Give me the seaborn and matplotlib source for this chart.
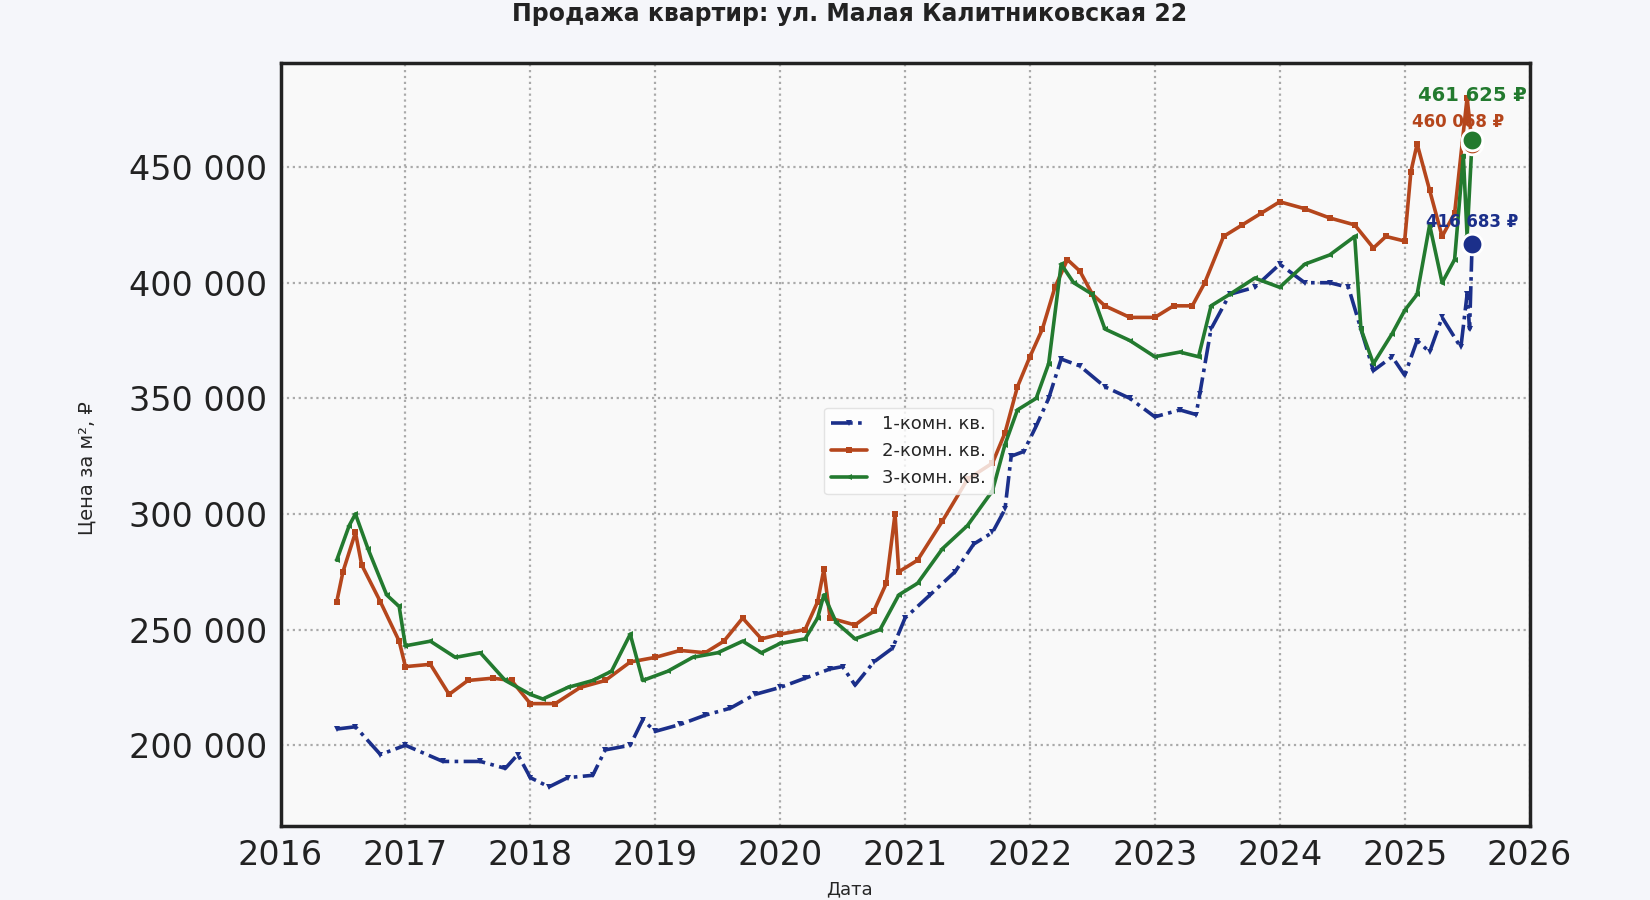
import matplotlib
matplotlib.use("Agg")
import matplotlib.pyplot as plt
import seaborn as sns
import pandas as pd

t1 = [2016.45,2016.6,2016.8,2017.0,2017.3,2017.6,2017.8,2017.9,2018.0,2018.15,2018.3,2018.5,2018.6,2018.8,2018.9,2019.0,2019.2,2019.4,2019.6,2019.8,2020.0,2020.2,2020.4,2020.5,2020.6,2020.75,2020.9,2021.0,2021.2,2021.4,2021.55,2021.7,2021.8,2021.85,2021.95,2022.05,2022.15,2022.25,2022.4,2022.6,2022.8,2023.0,2023.2,2023.33,2023.36,2023.45,2023.6,2023.8,2024.0,2024.2,2024.4,2024.55,2024.65,2024.75,2024.9,2025.0,2025.1,2025.2,2025.3,2025.45,2025.5,2025.52,2025.54]
v1 = [207000,208000,196000,200000,193000,193000,190000,196000,186000,182000,186000,187000,198000,200000,211000,206000,209000,213000,216000,222000,225000,229000,233000,234000,226000,236000,242000,255000,265000,275000,287000,292000,302000,325000,327000,338000,350000,367000,364000,355000,350000,342000,345000,343000,352000,380000,395000,398000,408000,400000,400000,398000,380000,362000,368000,360000,375000,370000,385000,372000,395000,380000,416683]

t2 = [2016.45,2016.5,2016.6,2016.65,2016.8,2016.95,2017.0,2017.2,2017.35,2017.5,2017.7,2017.85,2018.0,2018.2,2018.4,2018.6,2018.8,2019.0,2019.2,2019.4,2019.55,2019.7,2019.85,2020.0,2020.2,2020.3,2020.35,2020.4,2020.6,2020.75,2020.85,2020.92,2020.95,2021.1,2021.3,2021.5,2021.7,2021.8,2021.9,2022.0,2022.1,2022.2,2022.3,2022.4,2022.5,2022.6,2022.8,2023.0,2023.15,2023.3,2023.4,2023.55,2023.7,2023.85,2024.0,2024.2,2024.4,2024.6,2024.75,2024.85,2025.0,2025.05,2025.1,2025.2,2025.3,2025.4,2025.5,2025.54]
v2 = [262000,275000,292000,278000,262000,245000,234000,235000,222000,228000,229000,228000,218000,218000,225000,228000,236000,238000,241000,240000,245000,255000,246000,248000,250000,262000,276000,255000,252000,258000,270000,300000,275000,280000,297000,315000,322000,335000,355000,368000,380000,398000,410000,405000,395000,390000,385000,385000,390000,390000,400000,420000,425000,430000,435000,432000,428000,425000,415000,420000,418000,448000,460000,440000,420000,430000,480000,460068]

t3 = [2016.45,2016.55,2016.6,2016.7,2016.85,2016.95,2017.0,2017.2,2017.4,2017.6,2017.8,2018.0,2018.1,2018.3,2018.5,2018.65,2018.8,2018.9,2019.1,2019.3,2019.5,2019.7,2019.85,2020.0,2020.2,2020.3,2020.35,2020.45,2020.6,2020.8,2020.95,2021.1,2021.3,2021.5,2021.7,2021.8,2021.9,2022.05,2022.15,2022.25,2022.35,2022.5,2022.6,2022.8,2023.0,2023.2,2023.35,2023.45,2023.6,2023.8,2024.0,2024.2,2024.4,2024.6,2024.65,2024.75,2024.9,2025.0,2025.1,2025.2,2025.3,2025.4,2025.47,2025.5,2025.54]
v3 = [280000,295000,300000,285000,265000,260000,243000,245000,238000,240000,228000,222000,220000,225000,228000,232000,248000,228000,232000,238000,240000,245000,240000,244000,246000,255000,265000,253000,246000,250000,265000,270000,285000,295000,310000,330000,345000,350000,365000,408000,400000,395000,380000,375000,368000,370000,368000,390000,395000,402000,398000,408000,412000,420000,380000,365000,378000,388000,395000,425000,400000,410000,455000,420000,461625]

labels = ["1-комн. кв.", "2-комн. кв.", "3-комн. кв."]
colors = ["#1b2f8a", "#b5461c", "#237a2f"]
markers = ["v", "s", "<"]
styles = [(0, (6, 1.5, 1, 1.5)), "-", "-"]

sns.set_theme(style="whitegrid")
plt.rcParams["font.family"] = ["DejaVu Sans"]

fig = plt.figure(figsize=(16.5, 9), dpi=100, facecolor="#f5f6fa")
ax = fig.add_axes([0.170, 0.082, 0.757, 0.848])
ax.set_facecolor("#f9f9f9")

series = [(t1, v1), (t2, v2), (t3, v3)]
for (t, v), lab, c, m, ls in zip(series, labels, colors, markers, styles):
    df = pd.DataFrame({"x": t, "y": v})
    sns.lineplot(data=df, x="x", y="y", ax=ax, color=c, marker=m, markersize=5,
                 markeredgewidth=0, linewidth=2.6, linestyle=ls, label=lab)

offs = [(0, 12), (-10, 12), (0, 28)]
sizes = [12, 12, 14]
for (t, v), c, o, fs in zip(series, colors, offs, sizes):
    ax.scatter([t[-1]], [v[-1]], s=220, color=c, edgecolor="white", linewidth=2, zorder=5)
    ax.annotate(f"{v[-1]:,}".replace(",", " ") + " ₽", (t[-1], v[-1]), xytext=o,
                textcoords="offset points", ha="center", color=c, fontsize=fs, fontweight="bold")

yt = [200000, 250000, 300000, 350000, 400000, 450000]
ax.set_xlim(2016, 2026)
ax.set_ylim(165000, 495000)
ax.set_xticks(range(2016, 2027))
ax.set_yticks(yt)
ax.set_yticklabels([f"{y:,}".replace(",", " ") for y in yt])
ax.tick_params(labelsize=24, colors="#222222")
ax.grid(True, linestyle=":", color="#aaaaaa", linewidth=1.6)
for s in ax.spines.values():
    s.set_color("#222222"); s.set_linewidth(2.5)
ax.set_xlabel(""); ax.set_ylabel("")
fig.text(0.053, 0.48, "Цена за м², ₽", rotation=90, fontsize=14, va="center", ha="center")
fig.text(0.515, 0.002, "Дата", fontsize=13, ha="center", va="bottom")
fig.text(0.515, 0.998, "Продажа квартир: ул. Малая Калитниковская 22", fontsize=17,
         fontweight="bold", ha="center", va="top", color="#222222")
ax.legend(loc="upper left", bbox_to_anchor=(0.428, 0.56), fontsize=13,
          frameon=True, facecolor="white", edgecolor="#dddddd")
fig.savefig("out.png", dpi=100, facecolor=fig.get_facecolor())
